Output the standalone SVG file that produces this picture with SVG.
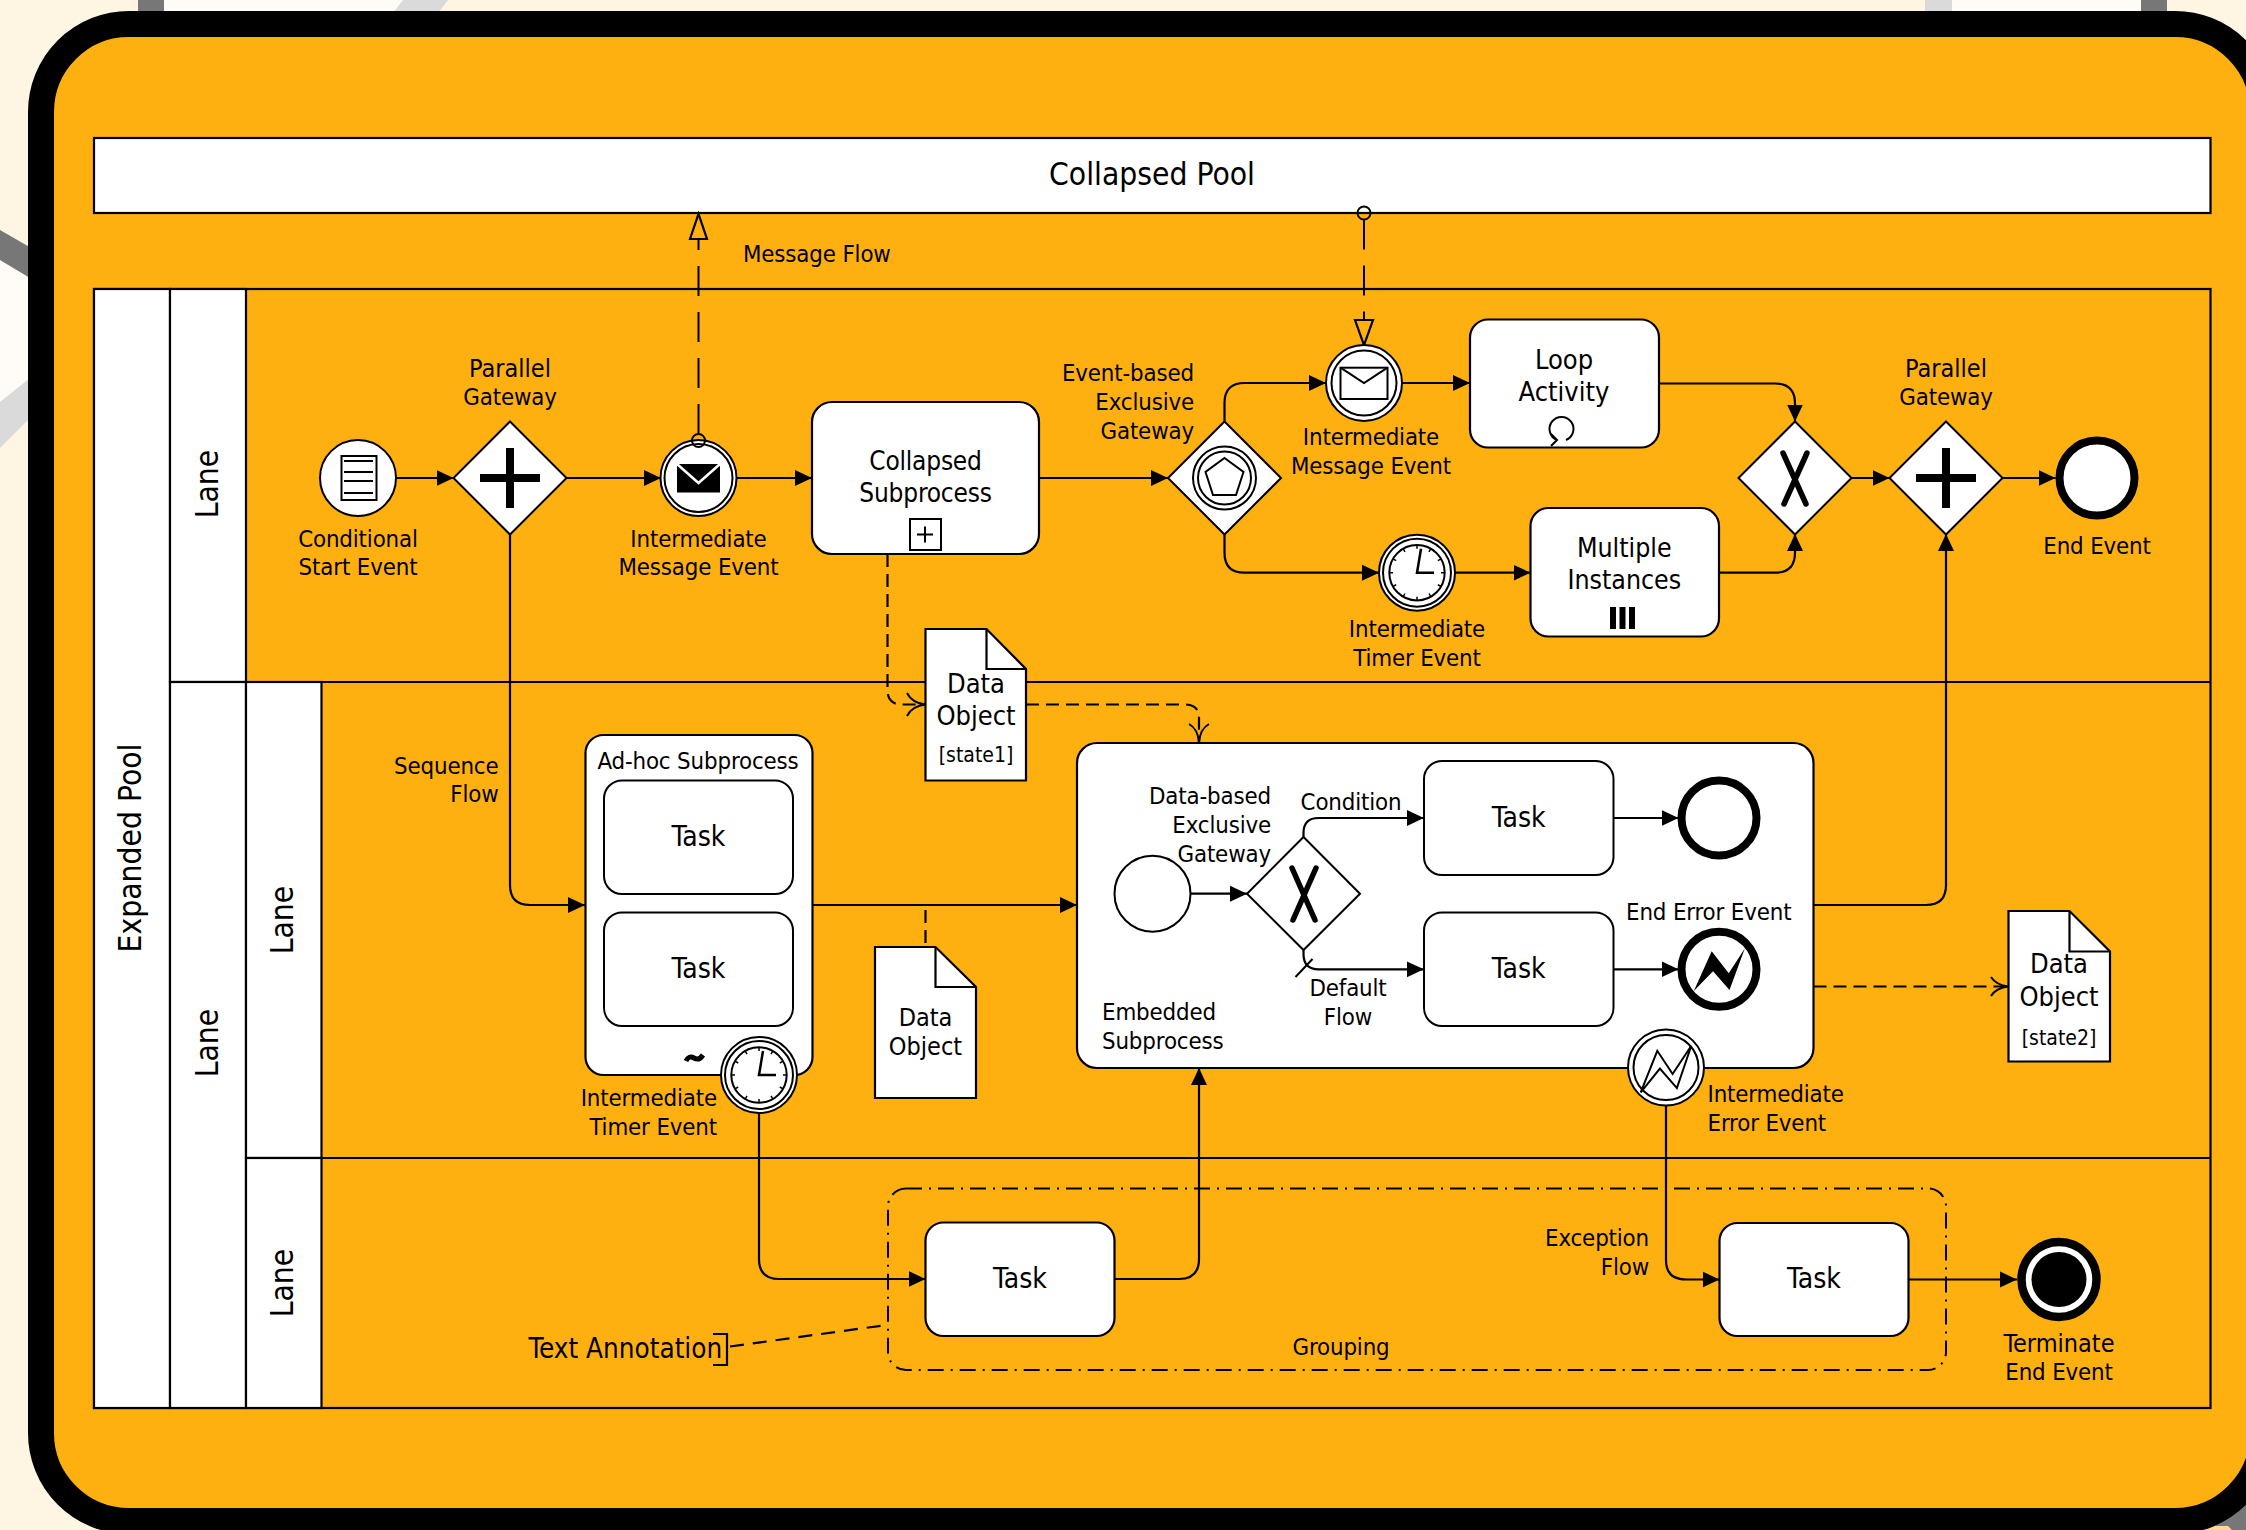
<svg xmlns="http://www.w3.org/2000/svg" xmlns:xlink="http://www.w3.org/1999/xlink" width="2246" height="1530" viewBox="0 0 2246 1530">
<style>
text{font-family:"DejaVu Sans Condensed","DejaVu Sans",sans-serif;font-size:23.8px;letter-spacing:-.15px;fill:#000;text-anchor:middle}
.l{text-anchor:start}.r{text-anchor:end}
.big{font-size:31.500px;letter-spacing:0}.mid{font-size:28px;letter-spacing:0}.cs{font-size:26px;letter-spacing:-.2px}.m27{font-size:27px;letter-spacing:0}.m25{font-size:25px;letter-spacing:0}.st{font-size:21px;letter-spacing:0}
.s{fill:#fff;stroke:#000;stroke-width:2.200}
.t{fill:#fff;stroke:#000;stroke-width:2}
.n{fill:none;stroke:#000;stroke-width:2.200}
.f{fill:#000;stroke:none}
.fl{fill:none;stroke:#000;stroke-width:2.200;marker-end:url(#arr)}
.msg{fill:none;stroke:#000;stroke-width:2;stroke-dasharray:30 16}
.assoc{fill:none;stroke:#000;stroke-width:2.200;stroke-dasharray:13 7}
</style>
<defs>
<marker id="arr" markerUnits="userSpaceOnUse" markerWidth="18" markerHeight="18" viewBox="0 0 18 18" refX="17" refY="9" orient="auto"><path d="M0 1L17 9L0 17Z" fill="#000"/></marker>
<g id="clock">
<circle r="38" class="t"/><circle r="34" class="t"/><circle r="27.700" class="t"/>
<path d="M0-27.700V-24M13.800-24L12-20.800M24-13.800L20.800-12M27.700 0H24M24 13.800L20.800 12M13.800 24L12 20.800M0 27.700V24M-13.800 24L-12 20.800M-24 13.800L-20.800 12M-27.700 0H-24M-24-13.800L-20.800-12M-13.800-24L-12-20.800" stroke="#000" stroke-width="1.500" fill="none"/>
<path d="M4-24L0 0H17" stroke="#000" stroke-width="2.500" fill="none"/>
</g>
</defs>

<g id="background">
<rect width="2246" height="1530" fill="#FFF5E3"/>
<path d="M164 0H403L380 30H164ZM1952 0H2141V30H1952ZM0 260L40 284V370L0 402Z" fill="#FFFCF7"/>
<path d="M138 0H164V30H138ZM2141 0H2167V30H2141ZM0 230L40 253V284L0 260ZM2246 1500V1530H2210Z" fill="#777"/>
<path d="M403 0H448L425 30H380ZM1925 0H1952V30H1925ZM0 402L40 370V408L0 448Z" fill="#DADADA"/>
<path d="M2205 1530L2212 1526L2228 1526L2232 1530Z" fill="#FFD890"/>
</g>
<rect id="canvas" x="41" y="24" width="2222" height="1497" rx="88" fill="#FFB011" stroke="#000" stroke-width="26"/>

<g id="pool-collapsed"><rect x="94" y="138" width="2116.500" height="75" class="s"/><text x="1152" y="185" class="big">Collapsed Pool</text></g>
<g id="pool-expanded">
<rect x="94" y="289" width="2116.500" height="1119" class="n"/>
<rect x="94" y="289" width="76" height="1119" class="s"/>
<text transform="translate(141,848) rotate(-90)" class="big">Expanded Pool</text>
</g>
<g id="lane-1"><rect x="170" y="289" width="76" height="393" class="s"/><path d="M246 682H2210.500" class="n"/><text transform="translate(218,484) rotate(-90)" class="big">Lane</text></g>
<g id="lane-2"><rect x="170" y="682" width="76" height="726" class="s"/><text transform="translate(218,1043) rotate(-90)" class="big">Lane</text></g>
<g id="lane-2a"><rect x="246" y="682" width="75.500" height="476" class="s"/><path d="M246 1158H2210.500" class="n"/><text transform="translate(293,920) rotate(-90)" class="big">Lane</text></g>
<g id="lane-2b"><rect x="246" y="1158" width="75.500" height="250" class="s"/><text transform="translate(293,1283) rotate(-90)" class="big">Lane</text></g>

<g id="connectors">
<path class="fl" d="M396 478H453.500"/>
<path class="fl" d="M566.500 478H661"/>
<path class="fl" d="M736.500 478H812"/>
<path class="fl" d="M1039 478H1168"/>
<path class="fl" d="M1224.500 421.500V403Q1224.500 383 1244.500 383H1326"/>
<path class="fl" d="M1224.500 534V552.700Q1224.500 572.700 1244.500 572.700H1379"/>
<path class="fl" d="M1402 383H1470"/>
<path class="fl" d="M1455 572.700H1530.500"/>
<path class="fl" d="M1659 383.500H1775Q1795 383.500 1795 403.500V421.500"/>
<path class="fl" d="M1719 572.700H1775Q1795 572.700 1795 552.700V534"/>
<path class="fl" d="M1851 478H1889.500"/>
<path class="fl" d="M2002.500 478H2055.500"/>
<path class="fl" d="M510 534V885Q510 905 530 905H585"/>
<path class="fl" d="M812.500 905H1077"/>
<path class="fl" d="M1813.500 905H1926Q1946 905 1946 885V534"/>
<path class="fl" d="M759 1113V1259Q759 1279 779 1279H925.500"/>
<path class="fl" d="M1114.500 1279H1179Q1199 1279 1199 1259V1068"/>
<path class="fl" d="M1666 1105.500V1260Q1666 1279.500 1686 1279.500H1719.500"/>
<path class="fl" d="M1908.500 1279.500H2017"/>
<path class="msg" d="M698.500 434V239"/>
<path d="M690 239L698.500 214L707 239Z" fill="#FFB011" stroke="#000" stroke-width="2.200"/>
<path class="msg" d="M1364 219.500V320"/>
<path d="M1355 320H1373L1364 345Z" fill="#FFB011" stroke="#000" stroke-width="2.200"/>
<circle cx="1364" cy="213" r="6.500" fill="none" stroke="#000" stroke-width="2"/>
<path class="assoc" d="M887.500 554V690Q887.500 704.500 902 704.500H925.500"/>
<path d="M907 693Q912 703 925.500 704.500Q912 706 907 716" fill="none" stroke="#000" stroke-width="2"/>
<path class="assoc" d="M1026 704.500H1185Q1199 704.500 1199 718V742.500"/>
<path d="M1189 724Q1198 729 1199 742.500Q1200 729 1209 724" fill="none" stroke="#000" stroke-width="2"/>
<path class="assoc" d="M925.500 910V947"/>
<path class="assoc" d="M1813.500 986.500H2008.500"/>
<path d="M1991 977Q1996 985 2008.500 986.500Q1996 988 1991 996" fill="none" stroke="#000" stroke-width="2"/>
<path d="M730 1346.500L883 1325.500" fill="none" stroke="#000" stroke-width="2.200" stroke-dasharray="14 9"/>
</g>

<g id="start-conditional"><circle cx="358" cy="478" r="38" class="t"/><rect x="341.500" y="456" width="35" height="44" class="t"/><path d="M344 461H373M344 472H373M344 481H373M344 493H373" stroke="#000" stroke-width="2"/><text x="358" y="547">Conditional</text><text x="358" y="575">Start Event</text></g>
<g id="gateway-parallel-1"><path d="M510 421.500L566.500 478L510 534.500L453.500 478Z" class="t"/><path d="M480 474H540V482H480ZM506 448H514V508H506Z" class="f"/><text x="510" y="376.500" class="m25">Parallel</text><text x="510" y="405">Gateway</text></g>
<g id="event-message-throw"><circle cx="698.500" cy="478" r="38" class="t"/><circle cx="698.500" cy="478" r="34" class="t"/><path d="M677 464L698.500 483L720 464V492.500H677Z" class="f"/><path d="M677 464H720L698.500 483Z" class="f"/><path d="M677 464L698.500 483L720 464" stroke="#fff" stroke-width="2.500" fill="none"/><circle cx="698.500" cy="440.500" r="6.500" fill="none" stroke="#000" stroke-width="2"/><text x="698.500" y="547">Intermediate</text><text x="698.500" y="575">Message Event</text></g>
<text x="743" y="262" class="l">Message Flow</text>
<g id="subprocess-collapsed"><rect x="812" y="402" width="227" height="152" rx="20" class="s"/><rect x="910" y="519" width="31" height="31" class="t"/><path d="M917 534.500H933M925 526.500V542.500" stroke="#000" stroke-width="2"/><text x="925.500" y="470" class="cs">Collapsed</text><text x="925.500" y="502" class="cs">Subprocess</text></g>
<g id="gateway-event"><path d="M1224.500 421.500L1281 478L1224.500 534.500L1168 478Z" class="t"/><circle cx="1224.500" cy="478" r="31.500" class="t"/><circle cx="1224.500" cy="478" r="26.500" class="t"/><path d="M1224.500 458L1243.500 472L1236 495H1213L1205.500 472Z" class="t"/><text x="1194" y="381" class="r">Event-based</text><text x="1194" y="410" class="r">Exclusive</text><text x="1194" y="439" class="r">Gateway</text></g>
<g id="event-message-catch"><circle cx="1364" cy="383" r="38" class="t"/><circle cx="1364" cy="383" r="32.500" class="t"/><rect x="1340.500" y="367.700" width="47" height="31.300" class="t"/><path d="M1340.500 367.700L1364 383L1387.500 367.700" class="n" style="stroke-width:2"/><text x="1371" y="445">Intermediate</text><text x="1371" y="474">Message Event</text></g>
<g id="task-loop"><rect x="1470" y="319.500" width="189" height="128" rx="18" class="s"/><path d="M1557 440A12 12 0 1 1 1566 440M1551 434L1557 440L1551 446" class="n" style="stroke-width:2"/><text x="1564" y="369" class="m27">Loop</text><text x="1564" y="401" class="m27">Activity</text></g>
<g id="event-timer"><use xlink:href="#clock" x="1417" y="572.700"/><text x="1417" y="637">Intermediate</text><text x="1417" y="666">Timer Event</text></g>
<g id="task-multi"><rect x="1530.500" y="508" width="188.500" height="128.500" rx="18" class="s"/><path d="M1610 607H1616V629H1610ZM1619.500 607H1625.500V629H1619.500ZM1629 607H1635V629H1629Z" class="f"/><text x="1624.300" y="557" class="m27" style="font-size:26.500px">Multiple</text><text x="1624.300" y="589" class="m27" style="font-size:26.500px">Instances</text></g>
<g id="gateway-exclusive-2"><path d="M1795 421.500L1851.500 478L1795 534.500L1738.500 478Z" class="t"/><path d="M1783 453L1806 504M1807 453L1784 504" stroke="#000" stroke-width="5.500" stroke-linecap="round"/></g>
<g id="gateway-parallel-2"><path d="M1946 421.500L2002.500 478L1946 534.500L1889.500 478Z" class="t"/><path d="M1916 474H1976V482H1916ZM1942 448H1950V508H1942Z" class="f"/><text x="1946" y="376.500" class="m25">Parallel</text><text x="1946" y="405">Gateway</text></g>
<g id="end-event"><circle cx="2097" cy="478" r="37.500" fill="#fff" stroke="#000" stroke-width="8"/><text x="2097" y="554">End Event</text></g>

<text x="498.500" y="774" class="r">Sequence</text><text x="498.500" y="802" class="r">Flow</text>
<g id="subprocess-adhoc"><rect x="585.500" y="735" width="227" height="340" rx="18" class="s"/><rect x="604" y="780.500" width="189" height="113.500" rx="18" class="t"/><rect x="604" y="912.500" width="189" height="113.500" rx="18" class="t"/><path d="M686 1061Q689 1055 694 1058T703 1055" stroke="#000" stroke-width="5" fill="none"/><text x="698" y="769">Ad-hoc Subprocess</text><text x="698.500" y="846" class="mid">Task</text><text x="698.500" y="978" class="mid">Task</text></g>
<g id="event-timer-boundary"><use xlink:href="#clock" x="759" y="1075"/><text x="717" y="1106" class="r">Intermediate</text><text x="717" y="1135" class="r">Timer Event</text></g>
<g id="data-object-1"><path d="M925.500 629H986.500L1026 669V780.500H925.500Z" class="t" style="stroke-width:2.200"/><path d="M986.500 629V669H1026" class="n"/><text x="976" y="693" class="m27">Data</text><text x="976" y="725" class="m27">Object</text><text x="976" y="762" class="st">[state1]</text></g>
<g id="data-object"><path d="M875 947H935.500L976 987V1098H875Z" class="t" style="stroke-width:2.200"/><path d="M935.500 947V987H976" class="n"/><text x="925.500" y="1026" class="m25">Data</text><text x="925.500" y="1055" class="m25">Object</text></g>
<g id="subprocess-embedded">
<rect x="1077" y="743" width="736.500" height="325" rx="20" class="s"/>
<path class="fl" d="M1190.500 893.700H1247"/>
<path class="fl" d="M1303.500 837V833Q1303.500 818 1318.500 818H1423.800"/>
<path class="fl" d="M1303.500 950V954Q1303.500 969.300 1318.500 969.300H1423.800"/>
<path class="fl" d="M1613.600 818H1678.500"/>
<path class="fl" d="M1613.600 969.300H1678.500"/>
<path d="M1295.500 977L1312.500 959" class="n" style="stroke-width:2"/>
<circle cx="1152.500" cy="893.700" r="38" class="t"/>
<path d="M1303.500 837L1360 893.700L1303.500 950L1247 893.700Z" class="t"/>
<path d="M1292 868L1315 920M1316 868L1293 920" stroke="#000" stroke-width="5.500" stroke-linecap="round"/>
<rect x="1424" y="761" width="189.500" height="114" rx="18" class="t"/>
<rect x="1424" y="912.500" width="189.500" height="113.500" rx="18" class="t"/>
<circle cx="1719" cy="818" r="37.500" fill="#fff" stroke="#000" stroke-width="8"/>
<circle cx="1719" cy="969.300" r="37.500" fill="#fff" stroke="#000" stroke-width="8"/>
<path d="M1693.800 991.100L1711.700 951.300L1728.700 973.300L1744.800 948.400L1729.500 989.900L1713 971.200Z" class="f"/>
<text x="1271" y="804" class="r">Data-based</text><text x="1271" y="833" class="r">Exclusive</text><text x="1271" y="862" class="r">Gateway</text>
<text x="1351" y="810">Condition</text>
<text x="1518.700" y="827" class="mid">Task</text><text x="1518.700" y="978" class="mid">Task</text>
<text x="1626" y="920" class="l">End Error Event</text>
<text x="1348" y="996">Default</text><text x="1348" y="1025">Flow</text>
<text x="1102" y="1020" class="l">Embedded</text><text x="1102" y="1049" class="l">Subprocess</text>
</g>
<g id="event-error-boundary"><circle cx="1666" cy="1067.500" r="38" class="t"/><circle cx="1666" cy="1067.500" r="32.500" class="t"/><path d="M1640.700 1092.300L1657.300 1050.800L1672.600 1074L1691.300 1045.800L1676.900 1088.100L1659.900 1068.600Z" class="t"/><text x="1707.500" y="1102" class="l">Intermediate</text><text x="1707.500" y="1131" class="l">Error Event</text></g>
<g id="data-object-2"><path d="M2008.500 911H2069.500L2110 951.500V1061.500H2008.500Z" class="t" style="stroke-width:2.200"/><path d="M2069.500 911V951.500H2110" class="n"/><text x="2059" y="973" class="m27">Data</text><text x="2059" y="1006" class="m27">Object</text><text x="2059" y="1045" class="st">[state2]</text></g>

<g id="task-lower-1"><rect x="925.500" y="1222.500" width="189" height="113.500" rx="18" class="s"/><text x="1020" y="1288" class="mid">Task</text></g>
<g id="task-lower-2"><rect x="1719.500" y="1223" width="189" height="113" rx="18" class="s"/><text x="1814" y="1288" class="mid">Task</text></g>
<text x="1649" y="1246" class="r">Exception</text><text x="1649" y="1275" class="r">Flow</text>
<g id="group-box"><rect x="888" y="1188.500" width="1058" height="181.500" rx="18" fill="none" stroke="#000" stroke-width="2" stroke-dasharray="16 7 2 7"/><text x="1341" y="1355">Grouping</text></g>
<g id="end-terminate"><circle cx="2059" cy="1279.500" r="37.500" fill="#fff" stroke="#000" stroke-width="8.500"/><circle cx="2059" cy="1279.500" r="27.500" class="f"/><text x="2059" y="1352" class="m25">Terminate</text><text x="2059" y="1380">End Event</text></g>
<g id="annotation"><path d="M713 1334H727V1365H713" class="n"/><text x="528.500" y="1358" class="l" style="font-size:27.600px;letter-spacing:0">Text Annotation</text></g>
</svg>
